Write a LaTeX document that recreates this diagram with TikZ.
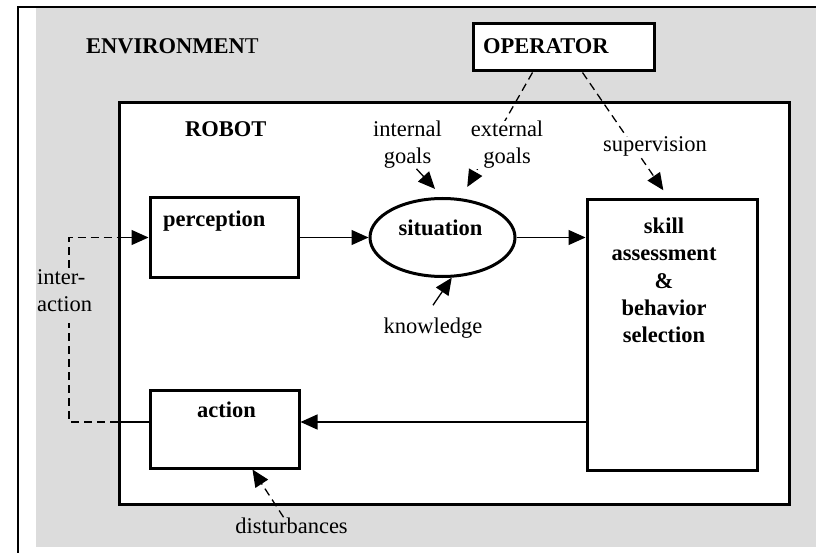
\documentclass[tikz,border=0pt]{standalone}
\usepackage{fontspec}
\setmainfont{Liberation Serif}
\usetikzlibrary{arrows.meta,shapes.geometric}
\definecolor{envgray}{RGB}{220,220,220}
\begin{document}
\begin{tikzpicture}[x=1pt,y=-1pt,
  every node/.style={font=\fontsize{22.5}{27}\selectfont},
  block/.style={draw, line width=3pt, fill=white, inner sep=0pt},
  txt/.style={inner sep=0pt},
  bold/.style={txt, font=\fontsize{22.5}{27}\selectfont\bfseries},
  conn/.style={line width=1.3pt},
  tip/.style={-{Triangle[length=17pt,width=15pt]}},
  dashedline/.style={dash pattern=on 8pt off 5pt},
]
\useasboundingbox (0,0) rectangle (816,553);

% environment area and its frame
\fill[envgray] (36,8) rectangle (816,547);
\draw[line width=1.8pt] (18,553) -- (18,7) -- (816,7);
\node[bold, anchor=base west] (env-title) at (86,54) {ENVIRONMEN\textmd{T}};

% operator
\node[block, minimum width=181pt, minimum height=47pt] (op) at (563.5,47.5) {};
\node[bold, anchor=base west] (op-text) at (483,54) {OPERATOR};

% robot
\node[block, minimum width=670pt, minimum height=401pt] (robot) at (454,303.5) {};
\node[bold, anchor=base west] (robot-title) at (185,137) {ROBOT};

% blocks inside the robot
\node[block, minimum width=148pt, minimum height=79pt] (perc) at (224,237.5) {};
\node[bold, anchor=base west] (perc-text) at (163,227) {perception};

\node[block, minimum width=149pt, minimum height=78pt] (act) at (224.5,429) {};
\node[bold, anchor=base] (act-text) at (226.5,417) {action};

\node[block, ellipse, minimum width=145pt, minimum height=78pt] (sit) at (442.5,237.5) {};
\node[bold, anchor=base] (sit-text) at (440.5,236) {situation};

\node[block, minimum width=170pt, minimum height=270pt] (skill) at (672,335) {};
\node[bold, align=center, anchor=north, font=\fontsize{22.5}{27.25}\selectfont\bfseries]
  (skill-text) at (664,217.8) {skill\\assessment\\\&\\behavior\\selection};

% main flow
\draw[conn,tip] (perc.east) -- (sit.west);
\draw[conn,tip] (sit.east) -- (sit.east -| skill.west);
\draw[conn,tip] ([yshift=7pt]act.east -| skill.west) -- ([yshift=7pt]act.east);

% interaction loop through the environment
\coordinate (ia-low) at (69,323);
\coordinate (ia-high) at (69,268);
\draw[conn] ([yshift=7pt]act.west) -- ([yshift=7pt]act.west -| robot.west);
\draw[conn,dashedline] ([yshift=7pt]act.west -| robot.west) -| (ia-low);
\draw[conn,dashedline] (ia-high) |- (perc.west -| robot.west);
\draw[conn,tip] (perc.west -| robot.west) -- (perc.west);
\node[txt, anchor=north west, align=left] (inter) at (37,269.6) {inter-\\action};

% operator influence
\draw[conn,dashedline,tip,shorten >=13pt] ([xshift=-31pt]op.south) -- (sit.65);
\draw[conn,dashedline,tip,shorten >=10pt] ([xshift=19pt]op.south) -- ([xshift=-3pt]skill.north);
\node[txt, fill=white, align=center, anchor=north] (extg) at (507,121) {external\\goals};
\node[txt, fill=white, anchor=base] (sup) at (655,152) {supervision};

% other inputs
\node[txt, align=center, anchor=north] (intg) at (407.5,121) {internal\\goals};
\draw[conn,tip,shorten >=11pt] ([xshift=9pt]intg.south) -- (sit.north);

\node[txt, anchor=base] (know) at (433,333) {knowledge};
\draw[conn,tip] ([yshift=12pt]know.north) -- (sit.283);

\node[txt, anchor=base] (dist) at (291.5,533) {disturbances};
\draw[conn,dashedline,tip] ([xshift=-8pt]dist.north) -- ([xshift=28pt]act.south);
\end{tikzpicture}
\end{document}
